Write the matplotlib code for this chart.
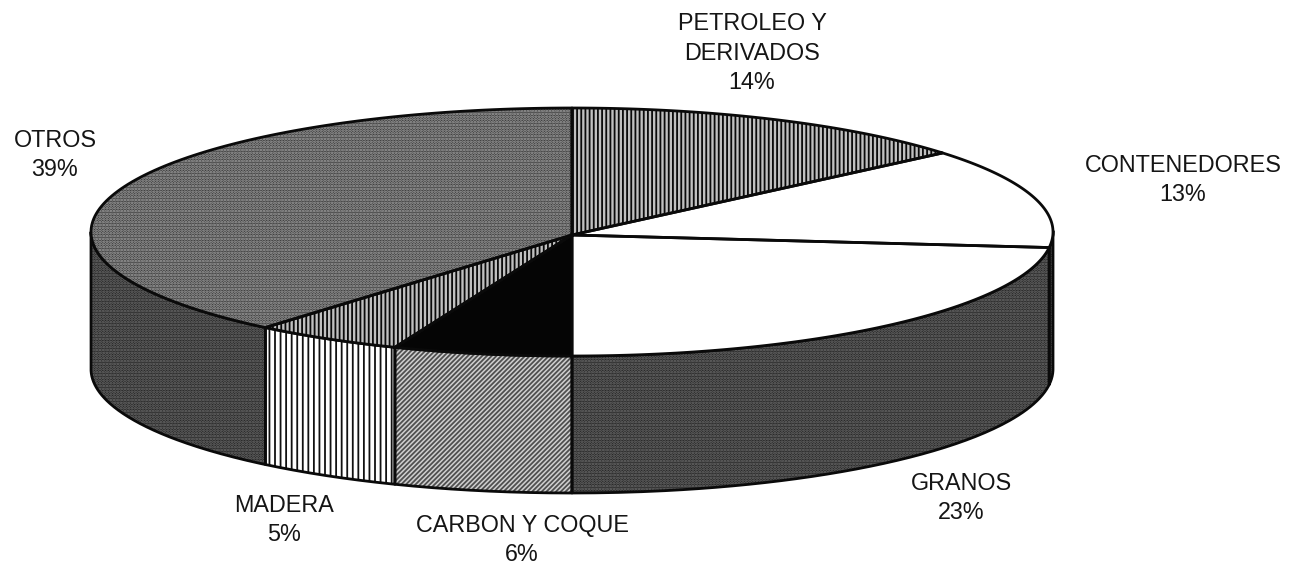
import numpy as np
import matplotlib
matplotlib.use("Agg")
import matplotlib.pyplot as plt

plt.rcParams["font.family"] = ["Liberation Sans", "DejaVu Sans"]
plt.rcParams["hatch.linewidth"] = 1.3

labels = ["PETROLEO Y\nDERIVADOS", "CONTENEDORES", "GRANOS", "CARBON Y COQUE", "MADERA", "OTROS"]
values = [14, 13, 23, 6, 5, 39]
label_x = [752, 1183, 961, 522, 284, 55]
label_y = [53, 180, 498, 540, 520, 155]

# (background, hatch colour, hatch)
top_style = [("#c0c0c0", "#0a0a0a", "||||"),
             ("#ffffff", "#ffffff", None),
             ("#ffffff", "#ffffff", None),
             ("#050505", "#050505", None),
             ("#c0c0c0", "#0a0a0a", "||||"),
             ("#3c3c3c", "#a8a8a8", "......")]
side_style = [("#ffffff", "#0a0a0a", "||||"),
              ("#262626", "#707070", "......"),
              ("#262626", "#707070", "......"),
              ("#d0d0d0", "#505050", "///////"),
              ("#ffffff", "#111111", "|||"),
              ("#262626", "#707070", "......")]

cx, cy = 572, 232
rx, ry = 481, 124
depth = 137


def rim(a0, a1):
    t = np.radians(np.linspace(a0, a1, 120))
    return cx + rx * np.sin(t), cy - ry * np.cos(t)


fig = plt.figure(figsize=(12.96, 5.65), dpi=100)
ax = fig.add_axes([0, 0, 1, 1])
ax.set_xlim(0, 1296)
ax.set_ylim(565, 0)
ax.axis("off")

edges = np.cumsum([0] + values) / sum(values) * 360

# side wall, only the front half shows
for i in range(len(values)):
    a0, a1 = max(edges[i], 90), min(edges[i + 1], 270)
    if a1 <= a0:
        continue
    x, y = rim(a0, a1)
    px = np.r_[x, x[::-1], x[0]]
    py = np.r_[y, y[::-1] + depth, y[0]]
    bg, hc, h = side_style[i]
    ax.fill(px, py, facecolor=bg, edgecolor="none", zorder=1)
    ax.fill(px, py, facecolor="none", edgecolor=hc, hatch=h, linewidth=0, zorder=2)
    ax.plot(px, py, color="#0a0a0a", lw=2, zorder=3)

# top face
for i in range(len(values)):
    x, y = rim(edges[i], edges[i + 1])
    px = np.r_[cx, x, cx]
    py = np.r_[cy + 3, y, cy + 3]
    bg, hc, h = top_style[i]
    ax.fill(px, py, facecolor=bg, edgecolor="none", zorder=4)
    if h:
        ax.fill(px, py, facecolor="none", edgecolor=hc, hatch=h, linewidth=0, zorder=5)
    ax.plot(px, py, color="#0a0a0a", lw=2, zorder=6)

for name, v, lx, ly in zip(labels, values, label_x, label_y):
    ax.text(lx, ly, "{}\n{}%".format(name, v), ha="center", va="center",
            fontsize=16.8, color="#151515", linespacing=1.34, zorder=7)

fig.savefig("out.png", dpi=100, facecolor="white")
